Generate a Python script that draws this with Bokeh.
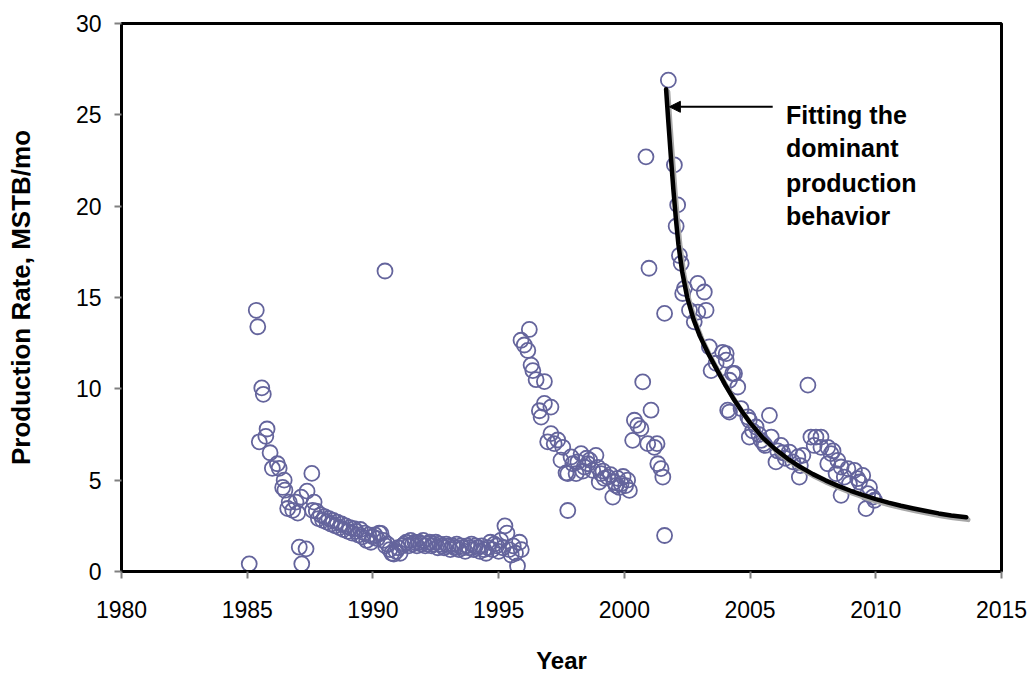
from bokeh.plotting import figure
from bokeh.models import ColumnDataSource, Arrow, NormalHead, FixedTicker
from bokeh.core.properties import value
from bokeh.transform import dodge
from bokeh.embed import file_html
from bokeh.resources import INLINE

# ---------------- data ----------------
years_a = [1985.08, 1985.36, 1985.42, 1985.58, 1985.64, 1985.79, 1985.74, 1985.48, 1985.91,
           1986.00, 1986.20, 1986.27, 1986.47, 1986.41, 1986.50, 1986.67, 1986.61, 1986.94,
           1986.81, 1987.01, 1987.14, 1987.38, 1987.57, 1987.66, 1987.60, 1987.07, 1987.34,
           1987.17]
rates_a = [0.42, 14.3, 13.4, 10.05, 9.7, 7.8, 7.4, 7.1, 6.5,
           5.65, 5.9, 5.65, 5.0, 4.6, 4.45, 3.8, 3.45, 3.8,
           3.35, 3.2, 4.07, 4.4, 5.37, 3.8, 3.35, 1.33, 1.24,
           0.42]

years_b = [1987.75, 1987.83, 1987.92, 1988.00, 1988.08, 1988.17, 1988.25, 1988.33, 1988.42,
           1988.50, 1988.58, 1988.67, 1988.75, 1988.83, 1988.92, 1989.00, 1989.08, 1989.17,
           1989.25, 1989.33, 1989.42, 1989.50, 1989.58, 1989.67, 1989.75, 1989.83, 1989.92,
           1990.00, 1990.08, 1990.17, 1990.25, 1990.32, 1990.42, 1990.50, 1990.58, 1990.67,
           1990.75, 1990.83, 1990.92, 1991.00, 1991.08, 1991.17, 1991.25, 1991.33, 1991.42,
           1991.50, 1991.58, 1991.67, 1991.75, 1991.83, 1991.92, 1992.00, 1992.08, 1992.17,
           1992.25, 1992.33, 1992.42, 1992.50, 1992.58, 1992.67, 1992.75, 1992.83, 1992.92,
           1993.00, 1993.08, 1993.17, 1993.25, 1993.33, 1993.42, 1993.50, 1993.58, 1993.67,
           1993.75, 1993.83, 1993.92, 1994.00, 1994.08, 1994.17, 1994.25, 1994.33, 1994.42,
           1994.50, 1994.58, 1994.67, 1994.75, 1994.83, 1994.92, 1995.00, 1995.08, 1995.17,
           1995.25, 1995.33, 1995.42, 1995.50, 1995.58, 1995.67, 1995.75, 1995.83, 1995.90,
           1990.48]
rates_b = [3.3, 2.9, 3.1, 2.8, 3.0, 2.7, 2.9, 2.6, 2.8,
           2.5, 2.7, 2.4, 2.6, 2.3, 2.5, 2.2, 2.4, 2.1,
           2.35, 2.2, 2.0, 2.3, 1.9, 2.1, 1.7, 2.0, 1.6,
           1.9, 2.0, 1.8, 2.1, 2.08, 1.7, 1.4, 1.5, 1.2,
           1.0, 0.95, 1.1, 1.3, 1.0, 1.4, 1.5, 1.6, 1.4,
           1.7, 1.5, 1.6, 1.4, 1.6, 1.5, 1.7, 1.4, 1.5,
           1.6, 1.4, 1.5, 1.6, 1.3, 1.5, 1.4, 1.3, 1.5,
           1.4, 1.2, 1.4, 1.3, 1.5, 1.2, 1.4, 1.3, 1.1,
           1.4, 1.3, 1.5, 1.2, 1.4, 1.3, 1.1, 1.4, 1.2,
           1.0, 1.3, 1.6, 1.2, 1.5, 1.4, 1.1, 1.7, 1.3,
           2.5, 2.1, 1.2, 0.9, 1.4, 1.0, 0.3, 1.6, 1.2,
           16.45]

years_c = [1996.22, 1995.89, 1996.02, 1996.16, 1996.29, 1996.36, 1996.49, 1996.82, 1996.82,
           1997.08, 1996.62, 1996.69, 1997.08, 1997.35, 1996.95, 1997.21, 1997.55, 1997.48,
           1997.68, 1997.75, 1997.88, 1998.28, 1998.55, 1998.87, 1997.75, 1998.08, 1998.41,
           1998.74, 1999.07, 1999.00, 1999.34, 1999.54, 1999.60, 1999.87, 2000.13, 2000.20,
           1999.73, 1998.15, 1998.35, 1998.62, 1998.95, 1999.20, 1999.45, 1999.67, 1999.95,
           2000.05, 1997.95, 1998.50, 1999.15, 1999.80]
rates_c = [13.25, 12.66, 12.4, 12.1, 11.3, 11.0, 10.5, 10.4, 9.2,
           9.0, 8.8, 8.45, 7.55, 7.2, 7.1, 7.0, 6.8, 6.1,
           5.4, 3.34, 6.27, 6.45, 5.9, 6.36, 5.36, 5.36, 5.72,
           5.54, 5.36, 4.9, 5.17, 4.07, 4.9, 4.8, 5.0, 4.44,
           5.1, 6.0, 5.5, 6.1, 5.7, 5.1, 5.3, 4.7, 5.2,
           4.7, 5.9, 6.2, 5.5, 4.6]

years_d = [2000.73, 2001.06, 2000.40, 2000.53, 2000.66, 2000.33, 2000.93, 2001.19, 2001.30,
           2001.33, 2001.46, 2001.53, 2001.60, 2001.60, 2000.86, 2000.98]
rates_d = [10.38, 8.83, 8.28, 8.0, 7.82, 7.18, 7.0, 6.8, 7.0,
           5.9, 5.63, 5.17, 14.13, 1.97, 22.7, 16.6]

years_e = [2001.75, 2001.99, 2002.12, 2002.06, 2002.19, 2002.26, 2002.39, 2002.92, 2002.32,
           2003.18, 2002.59, 2002.92, 2003.25, 2002.78, 2003.38, 2003.91, 2003.65, 2004.05,
           2003.45, 2004.31, 2004.51, 2004.18, 2004.18, 2004.64, 2004.91, 2004.97, 2005.24,
           2004.05, 2004.38, 2007.30, 2004.11, 2004.97, 2005.77, 2005.44, 2005.84, 2006.23,
           2006.56, 2006.90, 2007.10, 2006.03, 2006.96, 2007.42, 2007.62, 2007.82, 2008.09,
           2007.82, 2008.22, 2008.09, 2008.49, 2008.62, 2008.89, 2009.15, 2008.42, 2008.75,
           2009.28, 2009.48, 2008.62, 2009.68, 2009.88, 2009.61, 2005.10, 2005.35, 2005.60,
           2006.10, 2006.40, 2006.70, 2007.00, 2007.55, 2008.30, 2008.95, 2009.35, 2009.75,
           2009.95, 2005.55, 2006.30]
rates_e = [26.9, 22.26, 20.07, 18.9, 17.3, 16.87, 15.5, 15.77, 15.22,
           15.3, 14.3, 14.2, 14.3, 13.67, 12.3, 12.0, 11.4, 11.57,
           11.0, 10.84, 10.1, 10.47, 8.73, 8.92, 8.46, 7.36, 7.91,
           11.93, 10.84, 10.2, 8.83, 8.28, 8.55, 7.18, 7.36, 6.9,
           6.54, 6.27, 6.36, 6.0, 5.17, 7.36, 7.36, 7.36, 6.8,
           6.8, 6.45, 5.9, 6.08, 5.72, 5.63, 5.54, 5.36, 5.17,
           5.08, 5.26, 4.17, 4.26, 4.07, 3.44, 7.7, 7.5, 6.9,
           6.6, 6.2, 6.0, 5.8, 6.9, 6.6, 4.8, 4.9, 4.6,
           3.9, 7.0, 6.5]

fit_years = [2001.66, 2001.75, 2001.85, 2001.95, 2002.05, 2002.15, 2002.30, 2002.50, 2002.75,
             2003.00, 2003.33, 2003.70, 2004.00, 2004.32, 2004.70, 2005.00, 2005.50, 2006.00,
             2006.50, 2007.00, 2007.50, 2008.00, 2008.50, 2009.00, 2009.50, 2010.00, 2010.50,
             2011.00, 2011.50, 2012.00, 2012.50, 2013.00, 2013.60]
fit_rates = [26.4, 24.6, 22.7, 20.9, 19.3, 17.9, 16.4, 15.0, 13.8,
             12.9, 11.95, 11.0, 10.25, 9.5, 8.72, 8.15, 7.33, 6.7,
             6.17, 5.72, 5.33, 4.99, 4.69, 4.42, 4.18, 3.96, 3.77,
             3.6, 3.45, 3.31, 3.18, 3.07, 2.97]

x_ticks = [1980, 1985, 1990, 1995, 2000, 2005, 2010, 2015]
y_ticks = [0, 5, 10, 15, 20, 25, 30]

ann_lines = ["Fitting the", "dominant", "production", "behavior"]
ann_x = [2006.43, 2006.43, 2006.43, 2006.43]
ann_y = [25.0, 23.19, 21.27, 19.46]
arrow_from = (2005.9, 25.44)
arrow_to = (2001.79, 25.44)

# ---------------- figure ----------------
FONT = "Liberation Sans"
MARK = "#64649c"

p = figure(width=1031, height=677, x_range=(1980, 2015), y_range=(0, 30),
           output_backend="svg", toolbar_location=None,
           min_border_left=121, min_border_right=30, min_border_top=23, min_border_bottom=106)
p.background_fill_color = "white"
p.border_fill_color = "white"
p.xgrid.visible = False
p.ygrid.visible = False
p.outline_line_color = "black"
p.outline_line_width = 3

all_x = years_a + years_b + years_c + years_d + years_e
all_y = rates_a + rates_b + rates_c + rates_d + rates_e
src = ColumnDataSource(dict(x=all_x, y=all_y))
p.scatter("x", "y", source=src, marker="circle", size=15, fill_color=None,
          line_color=MARK, line_width=1.8)

fit_src = ColumnDataSource(dict(x=fit_years, y=fit_rates))
p.line(x=dodge("x", 0.07, range=p.x_range), y=dodge("y", -0.13, range=p.y_range),
       source=fit_src, line_color="#a8a8a8", line_width=5, line_cap="round", line_join="round")
p.line("x", "y", source=fit_src, line_color="black", line_width=4.5, line_cap="round",
       line_join="round")

p.add_layout(Arrow(end=NormalHead(size=11, fill_color="black", line_color="black", line_width=1),
                   x_start=arrow_from[0], y_start=arrow_from[1],
                   x_end=arrow_to[0], y_end=arrow_to[1],
                   line_color="black", line_width=2))

ann_src = ColumnDataSource(dict(x=ann_x, y=ann_y, t=ann_lines))
p.text("x", "y", text="t", source=ann_src, text_font=value(FONT), text_font_style="bold",
       text_font_size="25px", text_color="black", text_baseline="alphabetic", text_align="left")

for ax in (p.xaxis[0], p.yaxis[0]):
    ax.axis_line_color = "black"
    ax.axis_line_width = 3
    ax.major_tick_line_color = "#808080"
    ax.major_tick_line_width = 2
    ax.major_tick_out = 7
    ax.major_tick_in = 0
    ax.minor_tick_line_color = None
    ax.major_label_text_font = FONT
    ax.major_label_text_font_size = "23px"
    ax.major_label_text_color = "black"
    ax.axis_label_text_font = FONT
    ax.axis_label_text_font_style = "bold"
    ax.axis_label_text_color = "black"

p.xaxis.ticker = FixedTicker(ticks=x_ticks)
p.yaxis.ticker = FixedTicker(ticks=y_ticks)
p.xaxis.axis_label = "Year"
p.yaxis.axis_label = "Production Rate, MSTB/mo"
p.xaxis.axis_label_text_font_size = "24px"
p.yaxis.axis_label_text_font_size = "26px"
p.xaxis.major_label_standoff = 22
p.yaxis.major_label_standoff = 13
p.xaxis.axis_label_standoff = 26
p.yaxis.axis_label_standoff = 37

open("out.html", "w").write(file_html(p, INLINE))
